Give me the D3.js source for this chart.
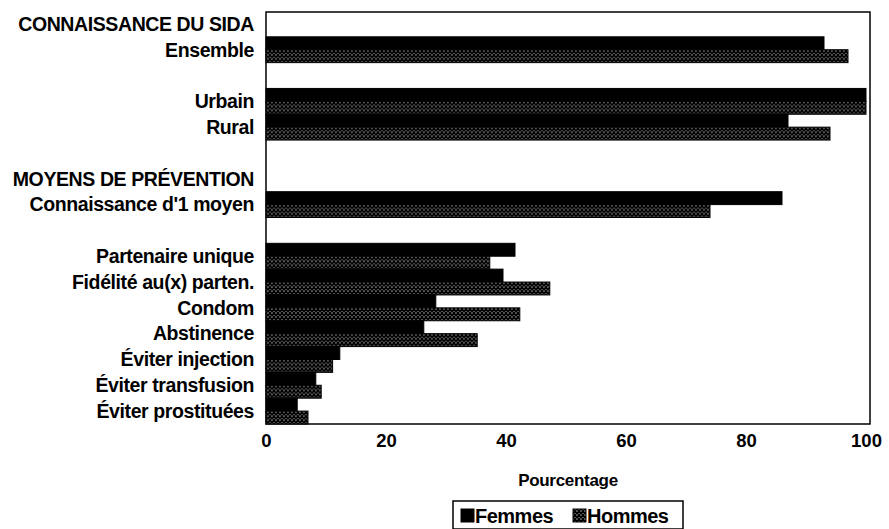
<!DOCTYPE html>
<html>
<head>
<meta charset="utf-8">
<script src="https://cdn.jsdelivr.net/npm/d3@7"></script>
<style>
  body { margin: 0; background: #fff; }
  svg text { font-family: "Liberation Sans", Arial, sans-serif; font-weight: bold; fill: #000; }
</style>
</head>
<body>
<div id="chart"></div>
<script>
// values (percent)
const categories = ["Ensemble", "Urbain", "Rural", "Connaissance d'1 moyen", "Partenaire unique",
    "Fidélité au(x) parten.", "Condom", "Abstinence", "Éviter injection", "Éviter transfusion", "Éviter prostituées"];
const femmes = [93, 100, 87, 86, 41.5, 39.5, 28.3, 26.3, 12.3, 8.3, 5.2];
const hommes = [97, 100, 94, 74, 37.3, 47.3, 42.3, 35.2, 11.1, 9.2, 7];
const sections = ["CONNAISSANCE DU SIDA", "MOYENS DE PRÉVENTION"];
const series = ["Femmes", "Hommes"];
const xTicks = [0, 20, 40, 60, 80, 100];

// row order, with section titles and empty rows in between
const rowLayout = ["S0", "Ensemble", "_a", "Urbain", "Rural", "_b", "S1",
    "Connaissance d'1 moyen", "_c", "Partenaire unique", "Fidélité au(x) parten.", "Condom",
    "Abstinence", "Éviter injection", "Éviter transfusion", "Éviter prostituées"];

const width = 889, height = 529;
const plot = { left: 266, right: 870, top: 12, bottom: 424 };
const labelSize = "19.5px";

const svg = d3.select("#chart").append("svg")
    .attr("width", width)
    .attr("height", height);

// crosshatch pattern for Hommes
const defs = svg.append("defs");
const pat = defs.append("pattern")
    .attr("id", "hatch")
    .attr("patternUnits", "userSpaceOnUse")
    .attr("width", 4)
    .attr("height", 4);
pat.append("rect").attr("width", 4).attr("height", 4).attr("fill", "#fff");
pat.append("path")
    .attr("d", "M0,0L4,4M4,0L0,4")
    .attr("stroke", "#000")
    .attr("stroke-width", 1.6);

const x = d3.scaleLinear().domain([0, 100]).range([plot.left, 866]);
const y = d3.scaleBand().domain(rowLayout).range([11, plot.bottom]);
const ySub = d3.scaleBand().domain(series).range([0, y.bandwidth()]);

const data = categories.map((c, i) => ({ name: c, Femmes: femmes[i], Hommes: hommes[i] }));

// frame
svg.append("rect")
    .attr("x", plot.left)
    .attr("y", plot.top)
    .attr("width", plot.right - plot.left)
    .attr("height", plot.bottom - plot.top)
    .attr("fill", "none")
    .attr("stroke", "#000")
    .attr("stroke-width", 1.5);

// bars
const groups = svg.selectAll(".grp")
    .data(data)
    .enter().append("g")
    .attr("class", "grp")
    .attr("transform", d => "translate(0," + y(d.name) + ")");

groups.selectAll("rect")
    .data(d => series.map(s => ({ key: s, value: d[s] })))
    .enter().append("rect")
    .attr("x", x(0))
    .attr("y", d => ySub(d.key))
    .attr("width", d => x(d.value) - x(0))
    .attr("height", ySub.bandwidth())
    .attr("fill", d => d.key === "Femmes" ? "#000" : "url(#hatch)")
    .attr("stroke", "#000")
    .attr("stroke-width", 1);

// category labels
svg.selectAll(".cat-label")
    .data(categories)
    .enter().append("text")
    .attr("class", "cat-label")
    .attr("x", 254)
    .attr("y", d => y(d) + y.bandwidth() / 2)
    .attr("dy", "0.35em")
    .attr("text-anchor", "end")
    .style("font-size", labelSize)
    .style("letter-spacing", "-0.4px")
    .text(d => d);

svg.selectAll(".sec-label")
    .data(sections)
    .enter().append("text")
    .attr("class", "sec-label")
    .attr("x", 254)
    .attr("y", (d, i) => y("S" + i) + y.bandwidth() / 2)
    .attr("dy", "0.35em")
    .attr("text-anchor", "end")
    .style("font-size", labelSize)
    .style("letter-spacing", "-0.4px")
    .text(d => d);

// x axis
const xAxis = d3.axisBottom(x)
    .tickValues(xTicks)
    .tickSize(0)
    .tickPadding(10);

const gx = svg.append("g")
    .attr("transform", "translate(0," + plot.bottom + ")")
    .call(xAxis);
gx.select(".domain").remove();
gx.selectAll("text")
    .style("font-size", "18.5px")
    .style("font-family", "Liberation Sans, Arial, sans-serif")
    .style("font-weight", "bold");

svg.append("text")
    .attr("x", 568)
    .attr("y", 480)
    .attr("dy", "0.35em")
    .attr("text-anchor", "middle")
    .style("font-size", "17px")
    .style("letter-spacing", "-0.3px")
    .text("Pourcentage");

// legend
const legend = svg.append("g").attr("transform", "translate(453,501)");
legend.append("rect")
    .attr("width", 230)
    .attr("height", 28)
    .attr("fill", "#fff")
    .attr("stroke", "#000")
    .attr("stroke-width", 1.5);

const legendX = [8, 120];
series.forEach((s, i) => {
    legend.append("rect")
        .attr("x", legendX[i])
        .attr("y", 8)
        .attr("width", 13)
        .attr("height", 13)
        .attr("fill", s === "Femmes" ? "#000" : "url(#hatch)")
        .attr("stroke", "#000");
    legend.append("text")
        .attr("x", legendX[i] + 14)
        .attr("y", 15)
        .attr("dy", "0.35em")
        .style("font-size", "20px")
        .style("letter-spacing", "-0.5px")
        .text(s);
});
</script>
</body>
</html>
